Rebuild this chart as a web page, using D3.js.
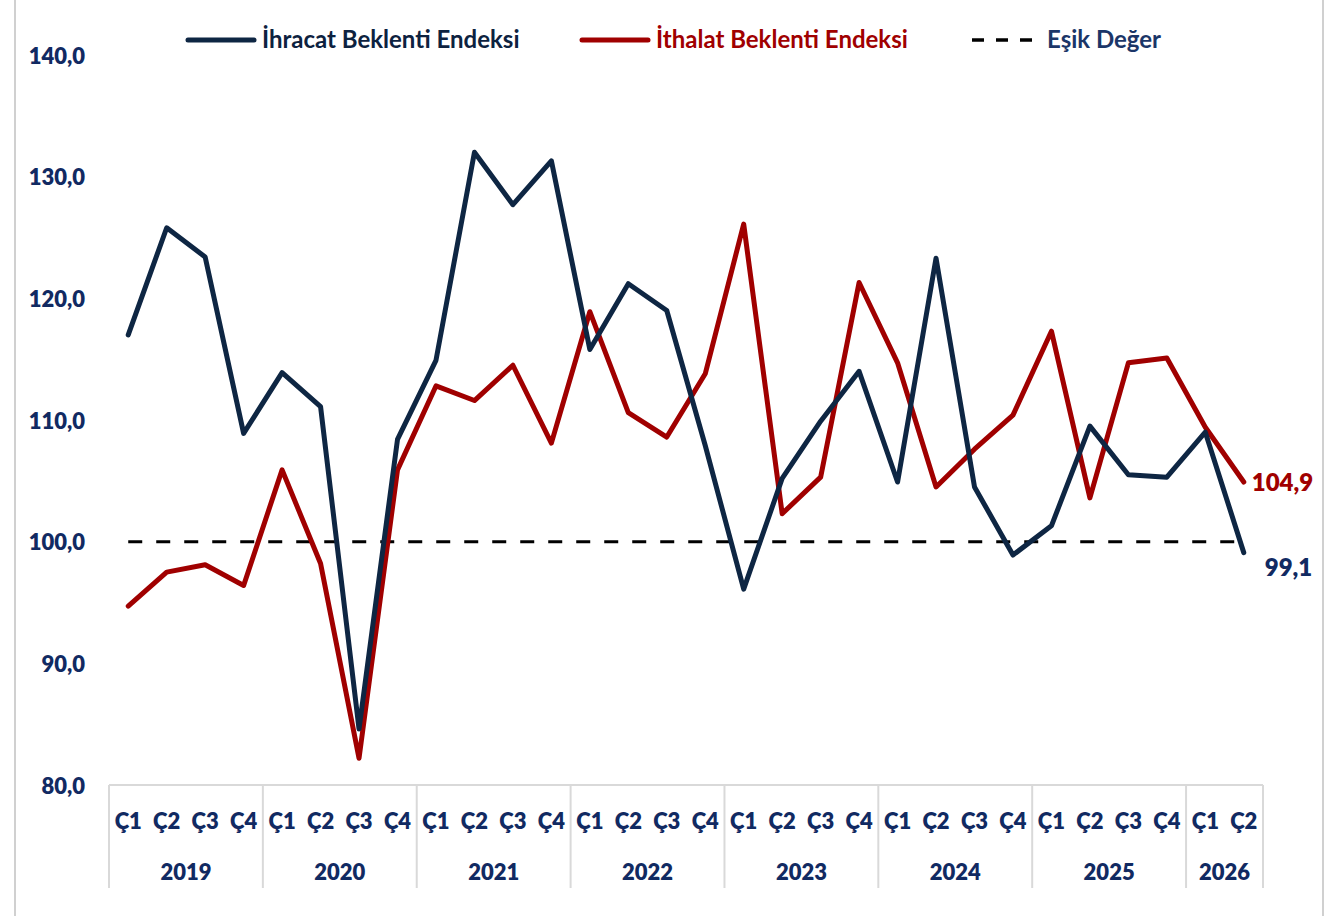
<!DOCTYPE html>
<html lang="tr">
<head>
<meta charset="utf-8">
<script src="https://cdn.jsdelivr.net/npm/d3@7"></script>
<style>
  html, body { margin: 0; padding: 0; background: #ffffff; }
  svg { display: block; font-family: Lato, "Open Sans", sans-serif; font-weight: 700; }
</style>
</head>
<body>
<svg id="chart" width="1330" height="916"></svg>
<script>
// Quarterly labels and the year they belong to
const quarters = ["Ç1","Ç2","Ç3","Ç4","Ç1","Ç2","Ç3","Ç4","Ç1","Ç2","Ç3","Ç4","Ç1","Ç2","Ç3","Ç4",
                  "Ç1","Ç2","Ç3","Ç4","Ç1","Ç2","Ç3","Ç4","Ç1","Ç2","Ç3","Ç4","Ç1","Ç2"];
const years = ["2019","2020","2021","2022","2023","2024","2025","2026"];
const quartersPerYear = [4, 4, 4, 4, 4, 4, 4, 2];

// Export expectation index
const ihracat = [117.0, 125.8, 123.4, 108.9, 113.9, 111.1, 84.6, 108.4,
                 114.9, 132.0, 127.7, 131.3, 115.8, 121.2, 119.0, 107.9,
                 96.1, 105.2, 109.9, 114.0, 104.9, 123.3, 104.5, 98.9,
                 101.3, 109.5, 105.5, 105.3, 109.0, 99.1];
// Import expectation index
const ithalat = [94.7, 97.5, 98.1, 96.4, 105.9, 98.2, 82.2, 105.9,
                 112.8, 111.6, 114.5, 108.1, 118.9, 110.6, 108.6, 113.8,
                 126.1, 102.3, 105.3, 121.3, 114.7, 104.5, 107.6, 110.4,
                 117.3, 103.6, 114.7, 115.1, 109.4, 104.9];
// Threshold value
const esik = 100;
const yTicks = [80, 90, 100, 110, 120, 130, 140];

const seriesNames = ["İhracat Beklenti Endeksi", "İthalat Beklenti Endeksi", "Eşik Değer"];

const svg = d3.select("#chart");
const W = 1330, H = 916;
const plot = { left: 109, right: 1263, top: 55, bottom: 785 };

const navy = "#0e2643";
const red = "#a00000";
const labelBlue = "#112a62";
const gridGray = "#d9d9d9";
const tickFont = 22;

// Outer frame
svg.append("rect").attr("x", 15).attr("y", -2).attr("width", 1308).attr("height", H + 4)
  .attr("fill", "none").attr("stroke", "#d0d0d0").attr("stroke-width", 2);

const idx = d3.range(quarters.length);
const x = d3.scaleBand().domain(idx).range([plot.left, plot.right]).paddingInner(0).paddingOuter(0);
const xc = i => x(i) + x.bandwidth() / 2;
const y = d3.scaleLinear().domain([80, 140]).range([plot.bottom, plot.top]);

const fmt = v => d3.format(".1f")(v).replace(".", ",");

// Y axis labels
const yAxis = d3.axisLeft(y).tickValues(yTicks).tickSize(0).tickPadding(0).tickFormat(fmt);
const gy = svg.append("g").attr("transform", `translate(85,1)`).call(yAxis);
gy.select(".domain").remove();
gy.selectAll("text").attr("fill", labelBlue).attr("font-size", tickFont).attr("font-weight", 800)
  .attr("font-family", "Lato, sans-serif");

// Category axis: baseline and year separators
svg.append("line").attr("x1", plot.left).attr("x2", plot.right)
  .attr("y1", plot.bottom).attr("y2", plot.bottom)
  .attr("stroke", gridGray).attr("stroke-width", 2);

let start = 0;
const yearBounds = [];
years.forEach((yr, k) => {
  yearBounds.push({ yr, s: start, e: start + quartersPerYear[k] - 1 });
  start += quartersPerYear[k];
});
const sepX = [plot.left].concat(yearBounds.map(b => x(b.e) + x.bandwidth()));
svg.append("g").selectAll("line").data(sepX).join("line")
  .attr("x1", d => d).attr("x2", d => d)
  .attr("y1", plot.bottom).attr("y2", 888)
  .attr("stroke", gridGray).attr("stroke-width", 2);

const xAxis = d3.axisBottom(x).tickSize(0).tickPadding(0).tickFormat(i => quarters[i]);
const gx = svg.append("g").attr("transform", `translate(0,829)`).call(xAxis);
gx.select(".domain").remove();
gx.selectAll("text").attr("dy", 0).attr("fill", labelBlue).attr("font-size", tickFont)
  .attr("font-weight", 800).attr("font-family", "Lato, sans-serif");

svg.append("g").selectAll("text").data(yearBounds).join("text")
  .attr("x", b => (x(b.s) + x(b.e) + x.bandwidth()) / 2)
  .attr("y", 880)
  .attr("text-anchor", "middle")
  .attr("fill", labelBlue).attr("font-size", tickFont).attr("font-weight", 800)
  .text(b => b.yr);

// Threshold line
svg.append("line")
  .attr("x1", xc(0)).attr("x2", xc(quarters.length - 1))
  .attr("y1", y(esik)).attr("y2", y(esik))
  .attr("stroke", "#000").attr("stroke-width", 3).attr("stroke-dasharray", "14,14");

const line = d3.line().x((d, i) => xc(i)).y(d => y(d));

svg.append("path").datum(ithalat).attr("d", line)
  .attr("fill", "none").attr("stroke", red).attr("stroke-width", 5)
  .attr("stroke-linejoin", "round").attr("stroke-linecap", "round");
svg.append("path").datum(ihracat).attr("d", line)
  .attr("fill", "none").attr("stroke", navy).attr("stroke-width", 5)
  .attr("stroke-linejoin", "round").attr("stroke-linecap", "round");

// End-point value labels
const last = quarters.length - 1;
svg.append("text").attr("x", xc(last) + 8).attr("y", y(ithalat[last]) + 9)
  .attr("fill", red).attr("font-size", 24).attr("font-weight", 800)
  .text(fmt(ithalat[last]));
svg.append("text").attr("x", xc(last) + 21).attr("y", y(ihracat[last]) + 23)
  .attr("fill", labelBlue).attr("font-size", 24).attr("font-weight", 800)
  .text(fmt(ihracat[last]));

// Legend
const legend = [
  { name: seriesNames[0], x: 188, color: navy, text: "#0d2240", dash: null },
  { name: seriesNames[1], x: 582, color: red, text: red, dash: null },
  { name: seriesNames[2], x: 972, color: "#000", text: "#1b3668", dash: "12,12" }
];
const lg = svg.append("g").selectAll("g").data(legend).join("g")
  .attr("transform", d => `translate(${d.x},40)`);
lg.append("line").attr("x1", 0).attr("x2", d => d.dash ? 68 : 66).attr("y1", 0).attr("y2", 0)
  .attr("stroke", d => d.color).attr("stroke-width", d => d.dash ? 3.5 : 5)
  .attr("stroke-dasharray", d => d.dash)
  .attr("stroke-linecap", d => d.dash ? "butt" : "round");
lg.append("text").attr("x", d => d.dash ? 75 : 74).attr("y", 8)
  .attr("fill", d => d.text).attr("font-size", 24).attr("font-weight", 700)
  .text(d => d.name);
</script>
</body>
</html>
